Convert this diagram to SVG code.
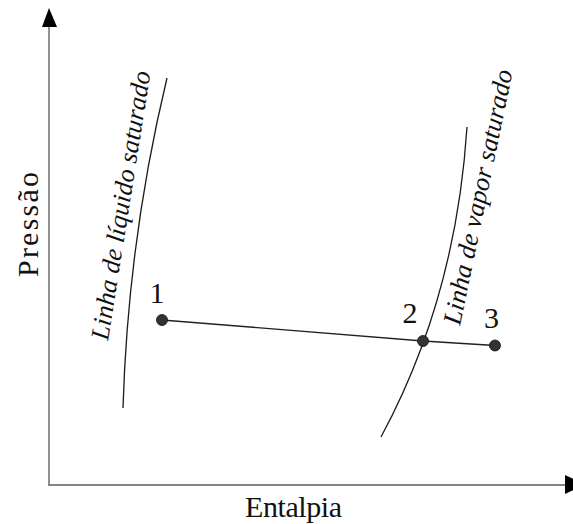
<svg xmlns="http://www.w3.org/2000/svg" width="573" height="524" viewBox="0 0 573 524">
  <defs>
    <style>
      .axis { stroke: #858585; stroke-width: 1.8; fill: none; }
      .curve { stroke: #1a1a1a; stroke-width: 1.3; fill: none; }
      .path { stroke: #222; stroke-width: 1.4; fill: none; }
      .pt { fill: #333; stroke: #111; stroke-width: 0.8; }
      .ital { font-style: italic; font-size: 26px; }
    </style>
  </defs>
  <rect width="573" height="524" fill="#fff"/>

  <g font-family="Liberation Serif, serif" fill="#111">
    <!-- axes -->
    <g id="axes">
      <line class="axis" x1="49" y1="485" x2="49" y2="26"/>
      <line class="axis" x1="48" y1="485" x2="566" y2="485"/>
      <polygon points="49,8 42,27 57,27" fill="#000"/>
      <polygon points="565,475 565,494 585,484.5" fill="#000"/>
      <text x="245" y="517" font-size="30" textLength="97">Entalpia</text>
      <text transform="translate(38,277) rotate(-90)" font-size="30" textLength="105">Pressão</text>
    </g>

    <!-- saturation curves -->
    <g id="liquid-line">
      <path class="curve" d="M167,78 Q128,240 123,408"/>
      <text class="ital" transform="translate(108,341) rotate(-81)" textLength="272">Linha de líquido saturado</text>
    </g>
    <g id="vapor-line">
      <path class="curve" d="M467,127 Q456,298 381,437"/>
      <text class="ital" transform="translate(460,326) rotate(-78.3)" textLength="260">Linha de vapor saturado</text>
    </g>

    <!-- process connectors -->
    <g id="connectors">
      <path class="path" d="M162,320 L423,341 L495,345.5"/>
    </g>

    <!-- state points -->
    <g id="state-1">
      <circle class="pt" cx="162" cy="320" r="5.5"/>
      <text x="157" y="303" font-size="30" text-anchor="middle">1</text>
    </g>
    <g id="state-2">
      <circle class="pt" cx="423" cy="341" r="5.5"/>
      <text x="410" y="323" font-size="30" text-anchor="middle">2</text>
    </g>
    <g id="state-3">
      <circle class="pt" cx="495" cy="345.5" r="5.5"/>
      <text x="491.5" y="328" font-size="30" text-anchor="middle">3</text>
    </g>
  </g>
</svg>
